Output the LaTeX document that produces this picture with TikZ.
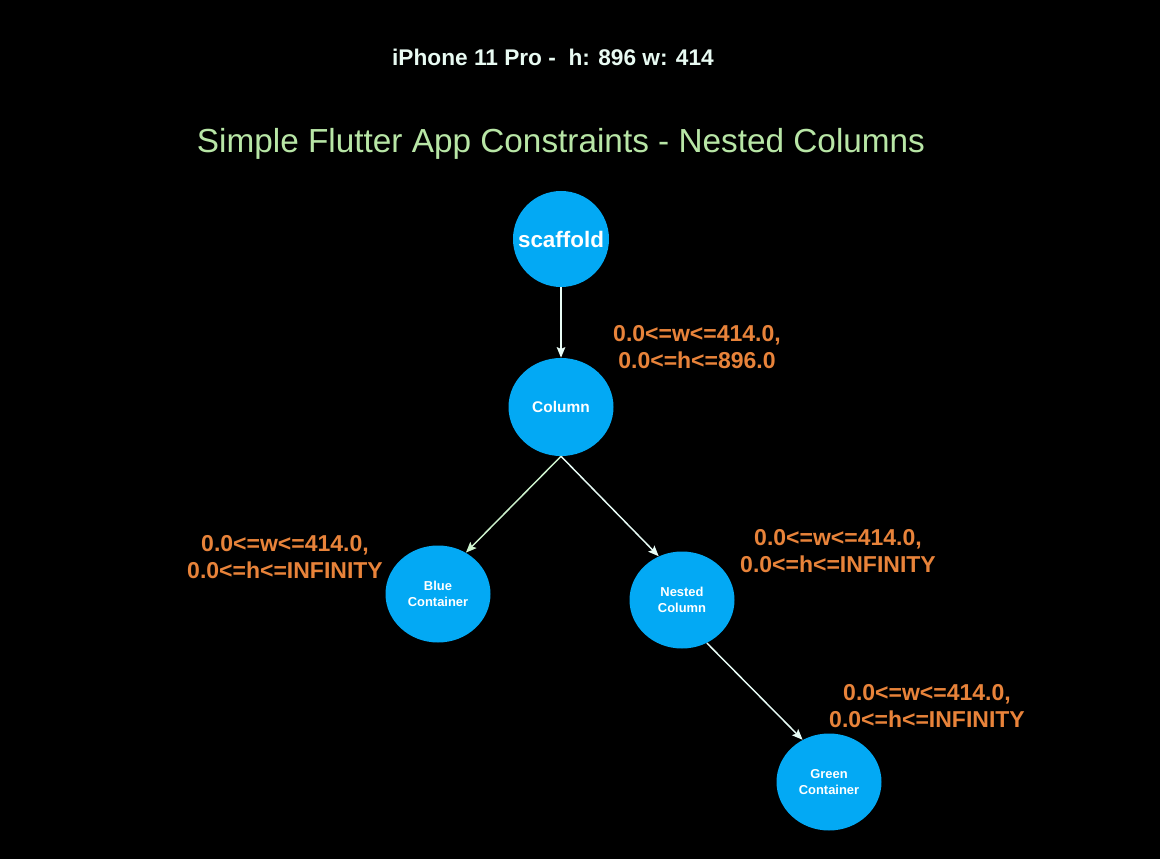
\documentclass[tikz,border=0pt]{standalone}
\usepackage{fontspec}
\setmainfont{Liberation Sans}
\usetikzlibrary{shapes.geometric,arrows.meta}
\definecolor{widgetblue}{RGB}{3,169,244}
\definecolor{limitorange}{RGB}{232,131,58}
\definecolor{titlegreen}{RGB}{184,230,166}
\definecolor{headwhite}{RGB}{232,250,242}
\definecolor{linkwhite}{RGB}{232,252,246}
\definecolor{linkgreen}{RGB}{205,242,205}
\begin{document}
\begin{tikzpicture}[x=0.75pt, y=-0.75pt,
    widget/.style={ellipse, fill=widgetblue, text=white, inner sep=0pt,
        minimum width=78.75pt, minimum height=72.75pt, align=center,
        font=\bfseries\fontsize{9.7}{12}\selectfont},
    limits/.style={text=limitorange, align=center,
        font=\bfseries\fontsize{17.25}{20.25}\selectfont},
    link/.style={draw=linkwhite, line width=1.1pt,
        -{Stealth[length=8pt, width=6.5pt, inset=1.5pt]}}]
    \fill[black] (0, 0) rectangle (1160, 859);
    \node[text=headwhite, font=\bfseries\fontsize{17}{20}\selectfont] (device) at (553, 57) {iPhone 11 Pro -\ \ h: 896 w: 414};
    \node[text=titlegreen, font=\fontsize{25}{29}\selectfont] (title) at (561, 144) {Simple Flutter App Constraints - Nested Columns};
    \node[widget, inner xsep=-8pt, minimum width=72pt, minimum height=72pt, font=\bfseries\fontsize{16.8}{20}\selectfont] (scaffold) at (561, 239) {scaffold};
    \node[widget, minimum height=73.5pt, font=\bfseries\fontsize{11.6}{14}\selectfont] (column) at (561, 407) {Column};
    \node[widget] (blue) at (438, 594) {Blue\\Container};
    \node[widget] (nested) at (682, 600) {Nested\\Column};
    \node[widget] (green) at (829, 782) {Green\\Container};
    \node[limits] (collimits) at (697, 347.5) {0.0<=w<=414.0,\\0.0<=h<=896.0};
    \node[limits] (bluelimits) at (285, 557.5) {0.0<=w<=414.0,\\0.0<=h<=INFINITY};
    \node[limits] (nestedlimits) at (838, 551.5) {0.0<=w<=414.0,\\0.0<=h<=INFINITY};
    \node[limits] (greenlimits) at (927, 706.5) {0.0<=w<=414.0,\\0.0<=h<=INFINITY};
    \draw[link] (scaffold.south) -- (column.north);
    \draw[link, draw=linkgreen] (column.south) -- (blue.56);
    \draw[link] (column.south) -- (nested.118);
    \draw[link] (nested.-60) -- (green.122);
\end{tikzpicture}
\end{document}
